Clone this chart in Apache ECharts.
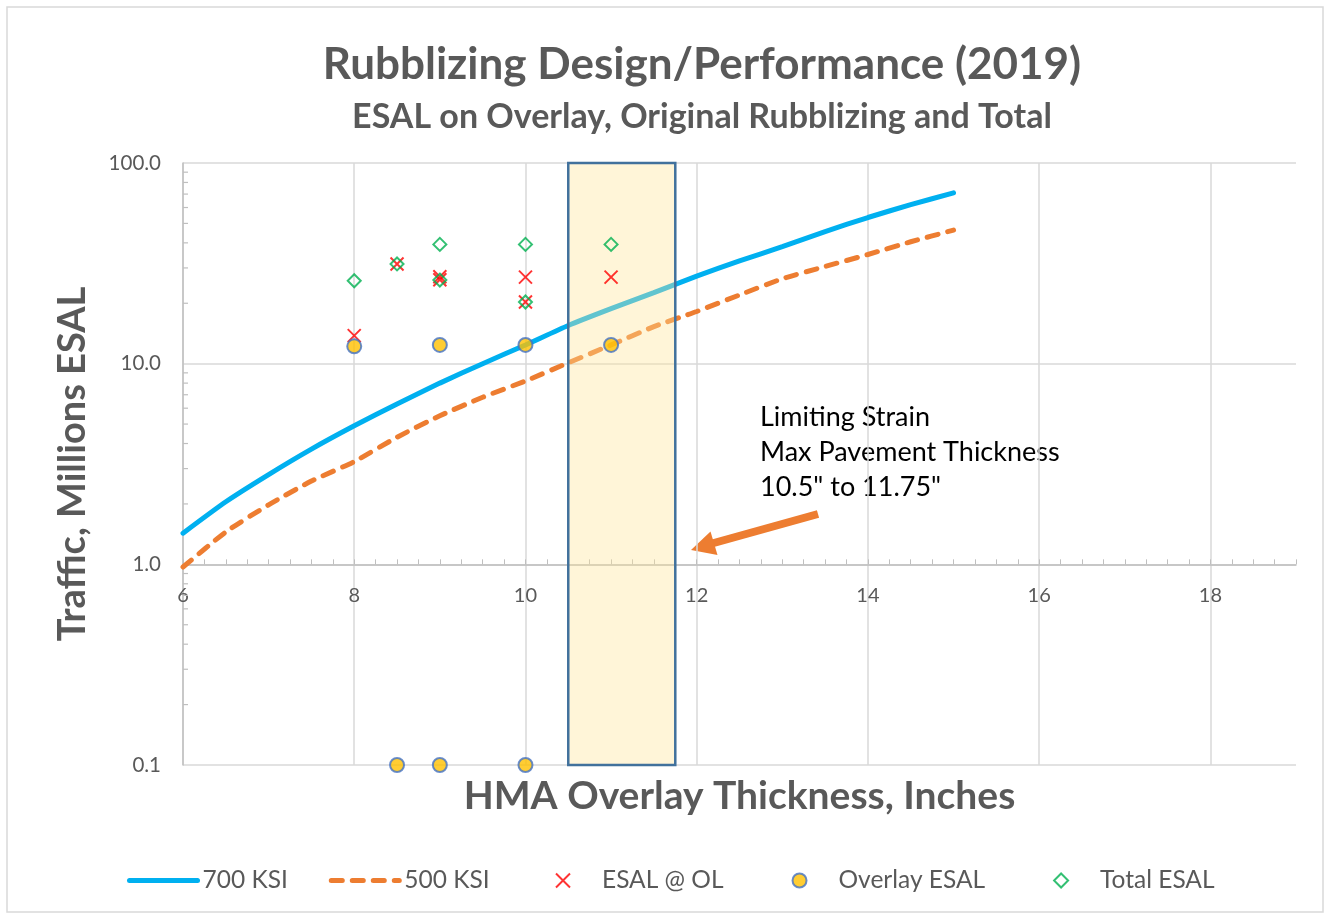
<!DOCTYPE html>
<html>
<head>
<meta charset="utf-8">
<title>Rubblizing Design/Performance (2019)</title>
<script src="https://cdn.jsdelivr.net/npm/echarts@6/dist/echarts.min.js"></script>
<style>
  html, body { margin: 0; padding: 0; background: #fff; }
  #main { width: 1331px; height: 917px; }
</style>
</head>
<body>
<div id="main"></div>
<script>
// design curves, overlay thickness (in) vs traffic (millions ESAL)
const curveThickness = [6, 6.5, 7, 7.5, 8, 8.5, 9, 9.5, 10, 10.5, 11, 11.5, 12, 12.5, 13, 13.5, 14, 14.5, 15];
const ksi700 = [1.43, 2.05, 2.8, 3.75, 4.9, 6.3, 8.0, 10.0, 12.4, 15.5, 18.8, 22.6, 27.3, 32.5, 38.3, 45.5, 53.5, 62, 71];
const ksi500 = [0.97, 1.45, 1.98, 2.6, 3.25, 4.3, 5.5, 6.8, 8.2, 10.1, 12.4, 15.3, 18.2, 22.0, 26.5, 30.5, 35.0, 40.5, 46.3];

// project points [thickness, millions ESAL]
const esalAtOl = [[8, 13.8], [8.5, 31.4], [9, 27.1], [9, 26.2], [10, 27.0], [10, 20.3], [11, 27.0]];
const overlayEsal = [[8, 12.2], [9, 12.4], [10, 12.4], [11, 12.4], [8.5, 0.1], [9, 0.1], [10, 0.1]];
const totalEsal = [[8, 25.9], [8.5, 31.4], [9, 39.3], [9, 26.1], [10, 39.3], [10, 20.3], [11, 39.3]];

// limiting strain band (in)
const limitRange = [10.5, 11.75];

// axes
const xMin = 6, xMax = 19, xStep = 2;
const yMin = 0.1, yMax = 100;
const yMinorTicks = [0.2, 0.3, 0.4, 0.5, 0.6, 0.7, 0.8, 0.9, 2, 3, 4, 5, 6, 7, 8, 9, 20, 30, 40, 50, 60, 70, 80, 90];

const annotationLines = ['Limiting Strain', 'Max Pavement Thickness', '10.5" to 11.75"'];

const W = 1331, H = 917;
const gridTop = 163, gridBottom = 152, gridLeft = 183, gridRight = 35;
const plotH = H - gridTop - gridBottom;

const font = 'Lato, "Open Sans", sans-serif';
const grey = '#595959';
const legendText = { fontFamily: font, fontSize: 24.5, color: grey };

const chart = echarts.init(document.getElementById('main'));

const option = {
  animation: false,
  backgroundColor: '#fff',
  title: [
    {
      text: 'Rubblizing Design/Performance (2019)',
      left: 697, top: 38, textAlign: 'center',
      textStyle: { fontFamily: font, fontWeight: 'bold', fontSize: 44, color: grey }
    },
    {
      text: 'ESAL on Overlay, Original Rubblizing and Total',
      left: 697, top: 95, textAlign: 'center',
      textStyle: { fontFamily: font, fontWeight: 'bold', fontSize: 34, color: grey }
    }
  ],
  grid: { left: gridLeft, right: gridRight, top: gridTop, bottom: gridBottom, containLabel: false },
  legend: [
    {
      // the two curves
      data: [
        { name: '700 KSI', itemStyle: { opacity: 0 }, lineStyle: { width: 5 } },
        { name: '500 KSI', itemStyle: { opacity: 0 }, lineStyle: { width: 5 } }
      ],
      left: 122, top: 863,
      itemWidth: 68, itemHeight: 14, itemGap: 41,
      textStyle: legendText
    },
    {
      // the point series
      data: ['ESAL @ OL', 'Overlay ESAL', 'Total ESAL'],
      left: 550, top: 863,
      itemWidth: 68, itemHeight: 14, itemGap: 68,
      textStyle: legendText
    }
  ],
  xAxis: {
    type: 'value',
    min: xMin, max: xMax, interval: xStep,
    offset: -plotH / 3, // axis crosses at 1.0
    name: 'HMA Overlay Thickness, Inches',
    nameLocation: 'middle', nameGap: 213,
    nameTextStyle: { fontFamily: font, fontWeight: 'bold', fontSize: 39, color: grey },
    axisLine: { onZero: false, lineStyle: { color: '#bfbfbf', width: 1.5 } },
    axisTick: { show: true, inside: true, length: 5, lineStyle: { color: '#bfbfbf' } },
    minorTick: { show: true, splitNumber: 8, length: 5, lineStyle: { color: '#bfbfbf' } },
    axisLabel: { fontFamily: font, fontSize: 20, color: grey, margin: 21, showMaxLabel: false },
    splitLine: { show: true, showMaxLine: false, lineStyle: { color: '#d9d9d9', width: 1.5 } }
  },
  yAxis: {
    type: 'log', logBase: 10,
    min: yMin, max: yMax,
    name: 'Traffic, Millions ESAL',
    nameLocation: 'middle', nameGap: 91,
    nameTextStyle: { fontFamily: font, fontWeight: 'bold', fontSize: 38, color: grey },
    axisLine: { show: true, lineStyle: { color: '#bfbfbf', width: 1.5 } },
    axisTick: { show: false },
    axisLabel: { fontFamily: font, fontSize: 20.5, color: grey, margin: 22, formatter: v => Number(v).toFixed(1) },
    splitLine: { show: true, lineStyle: { color: '#d9d9d9', width: 1.5 } }
  },
  graphic: [
    {
      type: 'rect', silent: true, z: -1,
      shape: { x: 7, y: 7, width: 1316, height: 905 },
      style: { fill: 'none', stroke: '#d9d9d9', lineWidth: 1.5 }
    },
    {
      type: 'line', silent: true,
      shape: { x1: 818, y1: 514, x2: 712, y2: 543.5 },
      style: { stroke: '#ed7d31', lineWidth: 8 }
    },
    {
      type: 'polygon', silent: true,
      shape: { points: [[691, 550], [710.5, 531.5], [717.5, 555]] },
      style: { fill: '#ed7d31' }
    },
    {
      type: 'text', silent: true, left: 760, top: 400,
      style: {
        text: annotationLines.join('\n'),
        fontFamily: font, fontSize: 27, lineHeight: 35, fill: '#000'
      }
    }
  ],
  series: [
    {
      name: '700 KSI', type: 'line', z: 2,
      data: curveThickness.map((x, i) => [x, ksi700[i]]),
      symbol: 'none', smooth: 0.2,
      lineStyle: { color: '#00b0f0', width: 5, cap: 'round' },
      itemStyle: { color: '#00b0f0' }
    },
    {
      name: '500 KSI', type: 'line', z: 2,
      data: curveThickness.map((x, i) => [x, ksi500[i]]),
      symbol: 'none', smooth: 0.2,
      lineStyle: { color: '#ed7d31', width: 5, type: [11, 10], cap: 'round' },
      itemStyle: { color: '#ed7d31' }
    },
    {
      // limiting strain band, drawn over the curves
      name: 'band', type: 'custom', z: 3, silent: true,
      data: [limitRange],
      renderItem: (params, api) => {
        const p1 = api.coord([api.value(0), yMax]);
        const p2 = api.coord([api.value(1), yMin]);
        return {
          type: 'rect',
          shape: { x: p1[0], y: p1[1], width: p2[0] - p1[0], height: p2[1] - p1[1] },
          style: { fill: 'rgba(255, 230, 153, 0.38)', stroke: '#41719c', lineWidth: 2.5 }
        };
      }
    },
    {
      // log minor ticks on the y axis
      name: 'yminor', type: 'custom', z: 3, silent: true,
      data: yMinorTicks.map(v => [xMin, v]),
      renderItem: (params, api) => {
        const p = api.coord([api.value(0), api.value(1)]);
        return {
          type: 'line',
          shape: { x1: p[0], y1: p[1], x2: p[0] + 5, y2: p[1] },
          style: { stroke: '#bfbfbf', lineWidth: 1.2 }
        };
      }
    },
    {
      name: 'ESAL @ OL', type: 'scatter', z: 4,
      data: esalAtOl,
      symbol: 'path://M0,0L10,10M10,0L0,10', symbolSize: 13,
      itemStyle: { color: '#ff0000', borderColor: '#ff0000', borderWidth: 2 }
    },
    {
      name: 'Overlay ESAL', type: 'scatter', z: 4,
      data: overlayEsal,
      symbol: 'circle', symbolSize: 14,
      itemStyle: { color: '#ffc000', borderColor: '#4472c4', borderWidth: 2 }
    },
    {
      name: 'Total ESAL', type: 'scatter', z: 4,
      data: totalEsal,
      symbol: 'path://M5,0L10,5L5,10L0,5Z', symbolSize: 13,
      itemStyle: { color: 'rgba(255,255,255,0)', borderColor: '#00b050', borderWidth: 2 }
    }
  ]
};

chart.setOption(option);
</script>
</body>
</html>
